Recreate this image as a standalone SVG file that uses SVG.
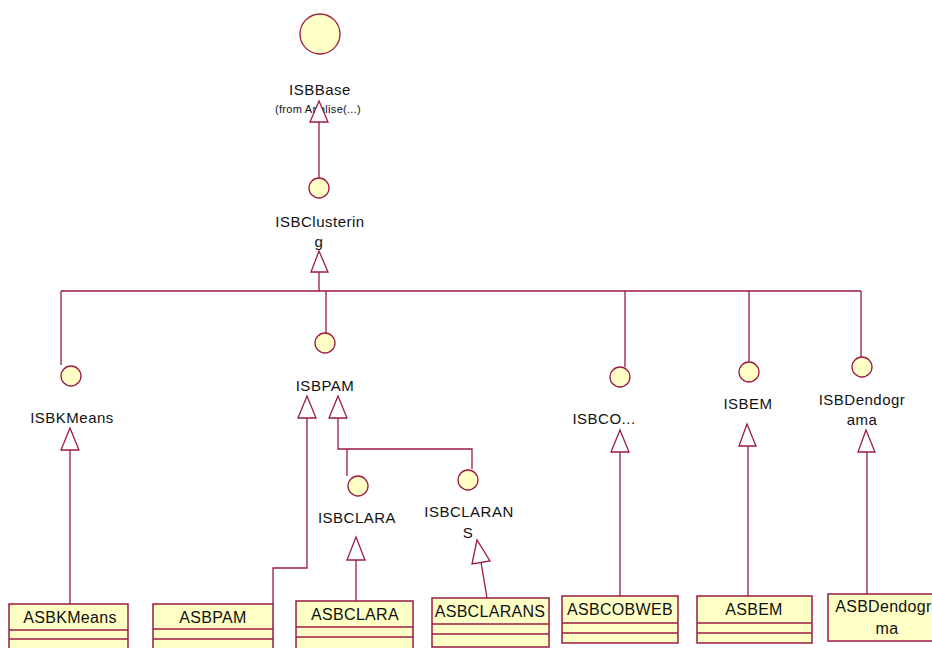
<svg xmlns="http://www.w3.org/2000/svg" width="932" height="648" viewBox="0 0 932 648">
<defs>
<style>
.ln{fill:none;stroke:#9b1b45;stroke-width:1.3}
.tri{fill:#fff;stroke:#9b1b45;stroke-width:1.3}
.if{fill:#ffffc6;stroke:#9b1b45;stroke-width:1.3}
.box{fill:#ffffc6;stroke:#9b1b45;stroke-width:1.5}
.t{font-family:"Liberation Sans",Arial,sans-serif;font-size:15px;letter-spacing:0.5px;fill:#111;text-anchor:middle}
.s{font-family:"Liberation Sans",Arial,sans-serif;font-size:11px;letter-spacing:0.3px;fill:#111;text-anchor:middle}
.b{font-family:"Liberation Sans",Arial,sans-serif;font-size:16px;letter-spacing:0.3px;fill:#111;text-anchor:middle}
</style>
</defs>
<rect width="932" height="648" fill="#fff"/>

<!-- interfaces -->
<g id="ISBBase">
<circle class="if" cx="320" cy="34" r="20"/>
<text class="t" x="320" y="95">ISBBase</text>
<text class="s" x="318" y="113">(from Analise(...)</text>
</g>
<g id="ISBClustering">
<circle class="if" cx="319" cy="188" r="10"/>
<text class="t" x="320" y="227">ISBClusterin</text>
<text class="t" x="319" y="247">g</text>
</g>
<g id="ISBKMeans">
<circle class="if" cx="71" cy="376" r="10"/>
<text class="t" x="72" y="423">ISBKMeans</text>
</g>
<g id="ISBPAM">
<circle class="if" cx="325" cy="343" r="10"/>
<text class="t" x="325" y="391">ISBPAM</text>
</g>
<g id="ISBCLARA">
<circle class="if" cx="358" cy="486" r="10"/>
<text class="t" x="357" y="523">ISBCLARA</text>
</g>
<g id="ISBCLARANS">
<circle class="if" cx="468" cy="480" r="10"/>
<text class="t" x="469" y="517">ISBCLARAN</text>
<text class="t" x="468" y="538">S</text>
</g>
<g id="ISBCOBWEB">
<circle class="if" cx="620" cy="377" r="10"/>
<text class="t" x="604" y="424">ISBCO...</text>
</g>
<g id="ISBEM">
<circle class="if" cx="749" cy="372" r="10"/>
<text class="t" x="748" y="409">ISBEM</text>
</g>
<g id="ISBDendograma">
<circle class="if" cx="862" cy="367" r="10"/>
<text class="t" x="862" y="405">ISBDendogr</text>
<text class="t" x="862" y="425">ama</text>
</g>

<!-- classes -->
<g id="ASBKMeans">
<rect class="box" x="9" y="604" width="119" height="50"/>
<line class="ln" x1="9" y1="630" x2="128" y2="630"/>
<line class="ln" x1="9" y1="639" x2="128" y2="639"/>
<text class="b" x="70" y="623">ASBKMeans</text>
</g>
<g id="ASBPAM">
<rect class="box" x="153" y="604" width="120" height="50"/>
<line class="ln" x1="153" y1="629" x2="273" y2="629"/>
<line class="ln" x1="153" y1="639" x2="273" y2="639"/>
<text class="b" x="213" y="623">ASBPAM</text>
</g>
<g id="ASBCLARA">
<rect class="box" x="296" y="601" width="117" height="50"/>
<line class="ln" x1="296" y1="627" x2="413" y2="627"/>
<line class="ln" x1="296" y1="637" x2="413" y2="637"/>
<text class="b" x="355" y="620">ASBCLARA</text>
</g>
<g id="ASBCLARANS">
<rect class="box" x="432" y="598" width="117" height="49"/>
<line class="ln" x1="432" y1="624" x2="549" y2="624"/>
<line class="ln" x1="432" y1="634" x2="549" y2="634"/>
<text class="b" x="490" y="617">ASBCLARANS</text>
</g>
<g id="ASBCOBWEB">
<rect class="box" x="562" y="596" width="116" height="47"/>
<line class="ln" x1="562" y1="623" x2="678" y2="623"/>
<line class="ln" x1="562" y1="633" x2="678" y2="633"/>
<text class="b" x="620" y="615">ASBCOBWEB</text>
</g>
<g id="ASBEM">
<rect class="box" x="697" y="596" width="115" height="47"/>
<line class="ln" x1="697" y1="623" x2="812" y2="623"/>
<line class="ln" x1="697" y1="633" x2="812" y2="633"/>
<text class="b" x="754" y="615">ASBEM</text>
</g>
<g id="ASBDendograma">
<rect class="box" x="828" y="594" width="120" height="47"/>
<text class="b" x="888" y="612">ASBDendogra</text>
<text class="b" x="887" y="634">ma</text>
</g>

<!-- connectors -->
<g id="connectors">
<path class="ln" d="M319 122V178"/>
<polygon class="tri" points="319,101 310,122 328,122"/>
<path class="ln" d="M319 272V291M61 291H861M61 291V365M326 291V333M625 291V367M749 291V362M861 291V357"/>
<polygon class="tri" points="319,251 311,272 328,272"/>
<path class="ln" d="M70 450V604"/>
<polygon class="tri" points="70,428 61,450 79,450"/>
<path class="ln" d="M307 418V568H273V604"/>
<polygon class="tri" points="307,396 298,418 316,418"/>
<path class="ln" d="M338 418V449H472V469M347 449V476"/>
<polygon class="tri" points="338,396 329,418 347,418"/>
<path class="ln" d="M356 560V601"/>
<polygon class="tri" points="356,537 347,560 365,560"/>
<path class="ln" d="M487 598L481 562"/>
<polygon class="tri" points="477,540 472,564 490,561"/>
<path class="ln" d="M620 452V596"/>
<polygon class="tri" points="620,430 611,452 629,452"/>
<path class="ln" d="M748 446V596"/>
<polygon class="tri" points="747,424 739,446 756,446"/>
<path class="ln" d="M867 452V594"/>
<polygon class="tri" points="866,430 858,452 875,452"/>
</g>
</svg>
